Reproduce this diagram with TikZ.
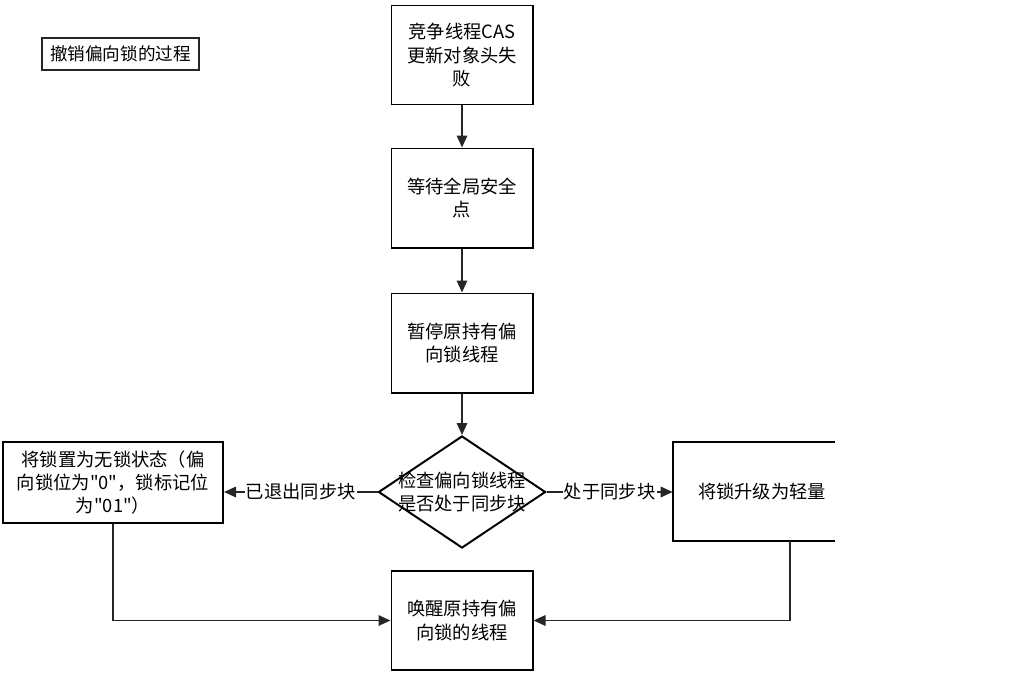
\documentclass[tikz,border=0pt]{standalone}
\usepackage{fontspec}
\setmainfont{Noto Sans CJK SC}[Ligatures=TeXOff]
\usetikzlibrary{arrows.meta,positioning,shapes.geometric}

\begin{document}
\begin{tikzpicture}[
    x=0.025cm, y=-0.025cm,
    node distance=1.1cm,
    font=\fontsize{13pt}{16.5pt}\selectfont,
    box/.style={
      rectangle, draw=black, line width=1.4pt,
      minimum width=3.525cm, minimum height=2.475cm,
      text width=3.3cm, inner sep=0pt, align=center
    },
    decision/.style={
      diamond, draw=black, line width=1.4pt,
      minimum width=4.175cm, minimum height=2.8cm, inner sep=0pt
    },
    title/.style={
      rectangle, draw=black!85, line width=0.8pt,
      minimum width=3.925cm, minimum height=0.8cm, inner sep=0pt
    },
    lbl/.style={fill=white, inner sep=1pt},
    arrow/.style={-{Triangle[length=3mm,width=2.6mm]}, line width=1.4pt, draw=black!85}
  ]
    \useasboundingbox (0,0) rectangle (1010,677);

    \node[title, font=\fontsize{12.5pt}{15pt}\selectfont] (caption) at (120.5,54) {撤销偏向锁的过程};

    \node[box] (cas) at (462,55) {竞争线程CAS\\更新对象头失\\败};
    \node[box] (wait) at (462,198) {等待全局安全\\点};
    \node[box, below=of wait] (pause) {暂停原持有偏\\向锁线程};
    \node[decision,
      label={[align=center]center:检查偏向锁线程\\是否处于同步块}] (check) at (462,492) {};
    \node[box, minimum width=5.5cm, minimum height=2.025cm, text width=5.4cm]
      (unlock) at (113,482.5) {将锁置为无锁状态（偏\\向锁位为"0"，锁标记位\\为"01"）};
    \node[minimum width=4.05cm, minimum height=2.475cm, text width=3.6cm,
      inner sep=0pt, align=right] (upgrade) at (754,491.5) {将锁升级为轻量};
    \node[box] (wake) at (462,620.5) {唤醒原持有偏\\向锁的线程};

    % box open on the right side
    \draw[line width=1.4pt] (upgrade.north east) -- (upgrade.north west)
      -- (upgrade.south west) -- (upgrade.south east);
    \coordinate (upgrade-out) at (790,541);

    \draw[arrow] (cas) -- (wait);
    \draw[arrow] (wait) -- (pause);
    \draw[arrow] (pause) -- (check);
    \draw[arrow] (check.west) -- node[lbl] {已退出同步块} (check.west -| unlock.east);
    \draw[arrow] (check.east) -- node[lbl] {处于同步块} (check.east -| upgrade.west);
    \draw[arrow] (unlock.south) |- (wake.west);
    \draw[arrow] (upgrade-out) |- (wake.east);
  \end{tikzpicture}
\end{document}
